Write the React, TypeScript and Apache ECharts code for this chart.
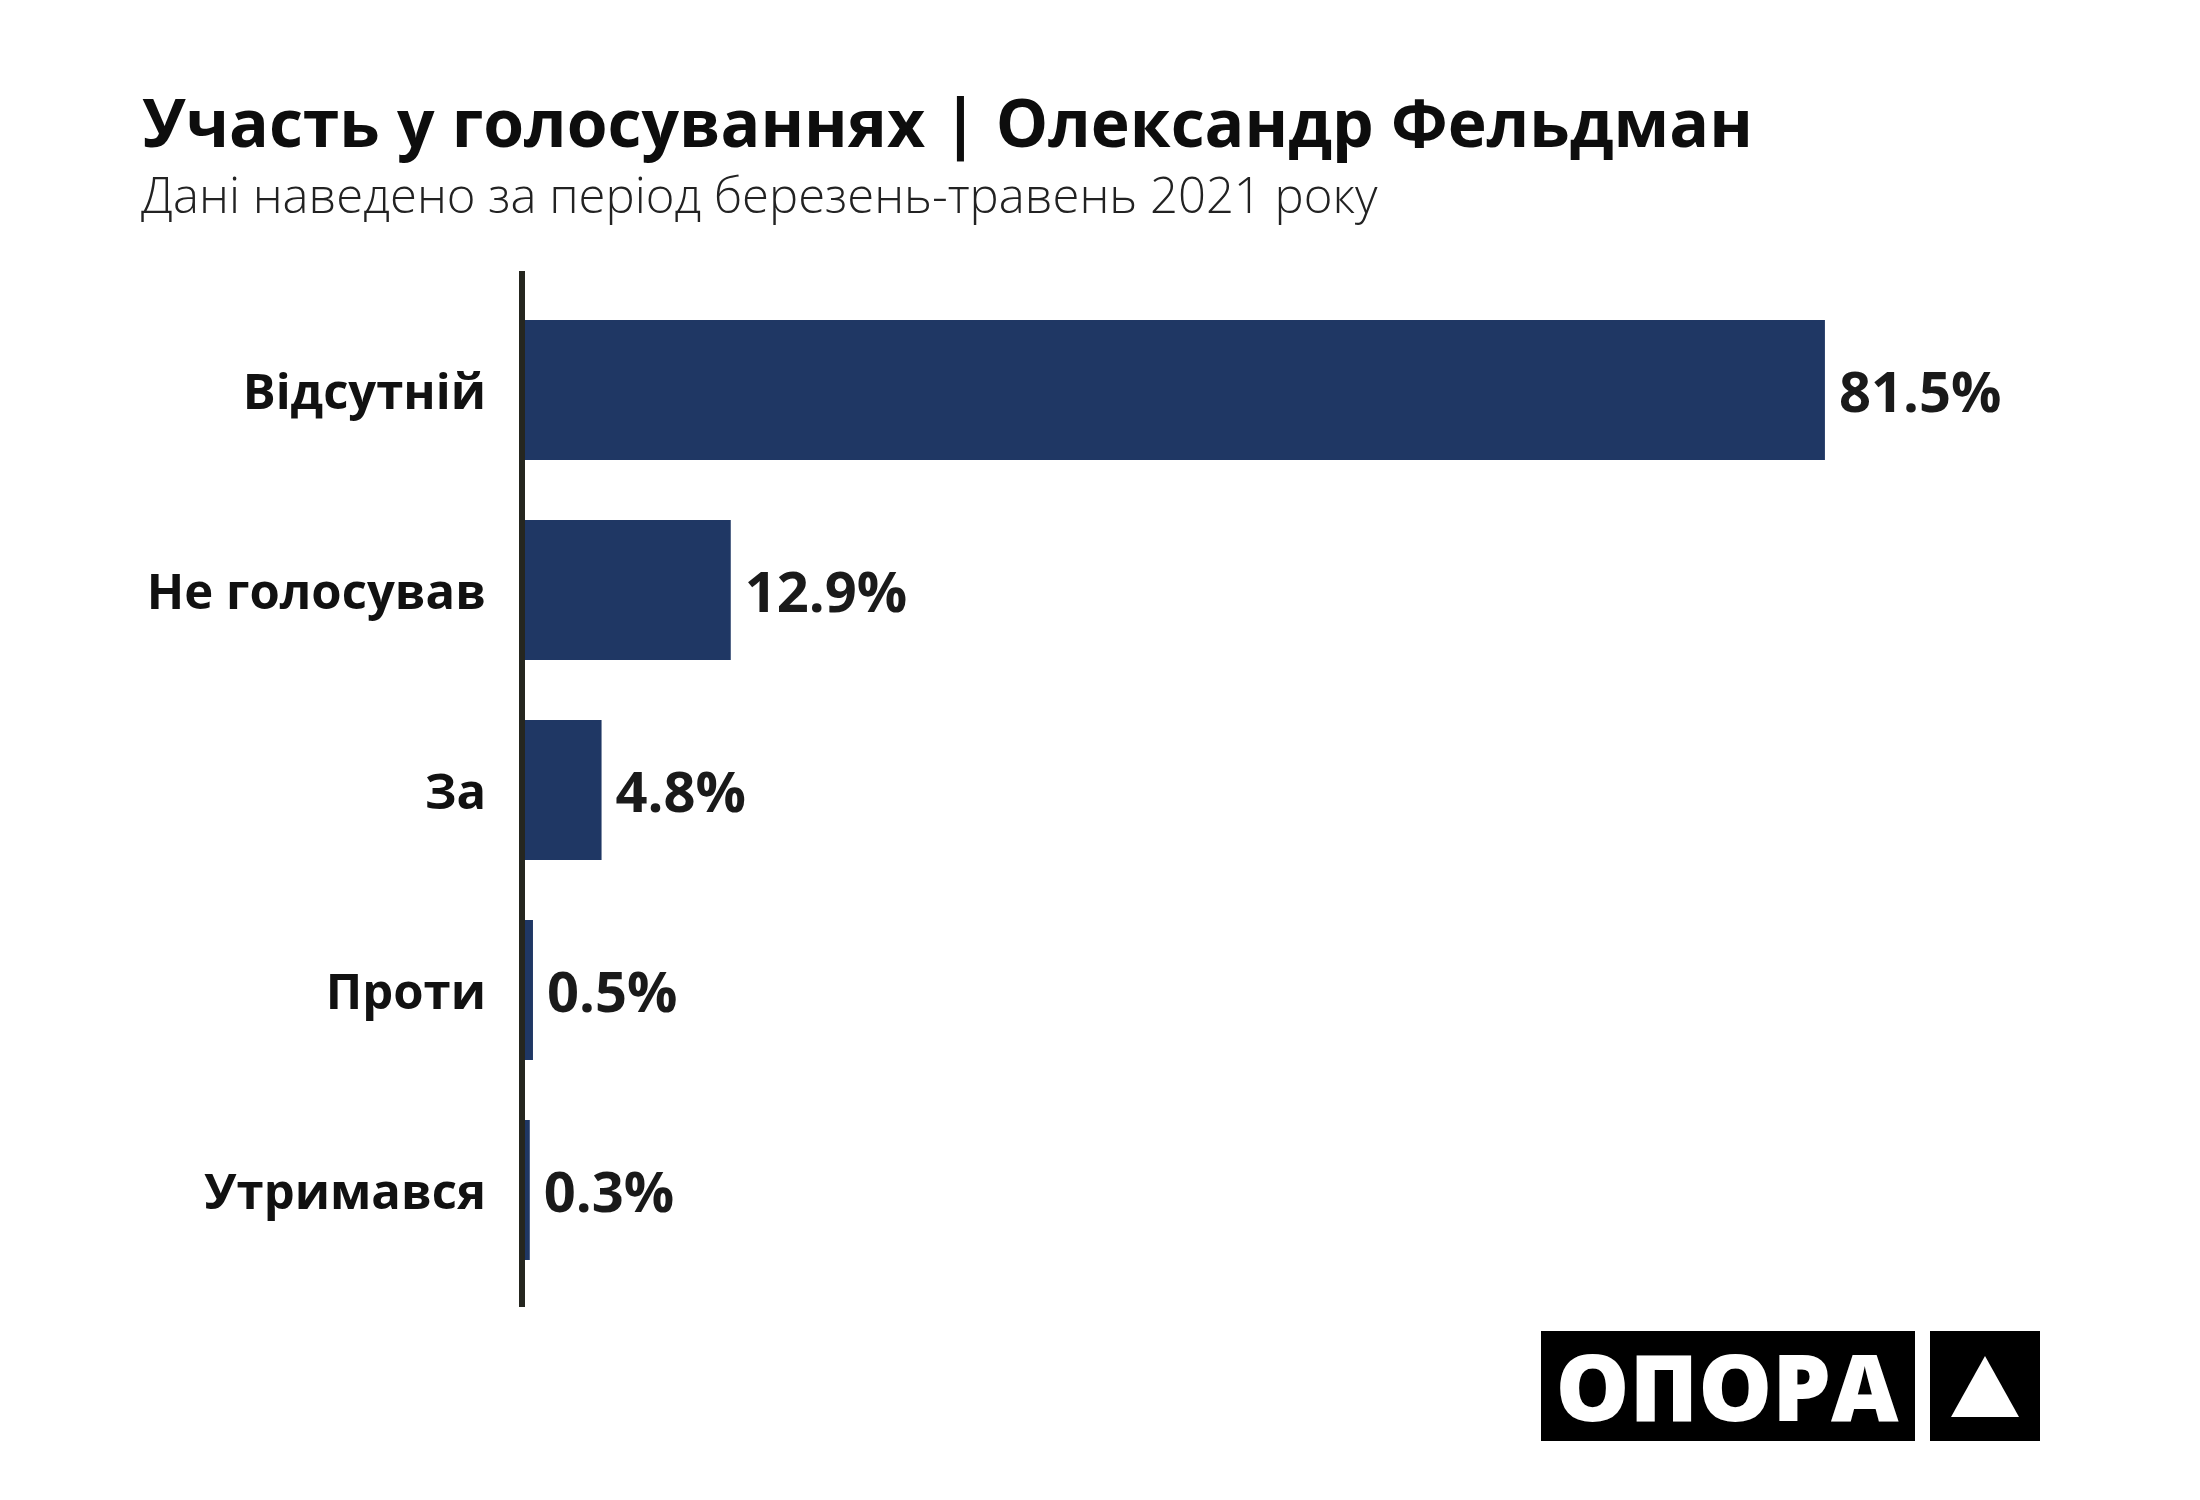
import React, { useEffect, useRef } from "react";
import * as echarts from "echarts";

const categories = ["Відсутній", "Не голосував", "За", "Проти", "Утримався"];
const shares = [81.5, 12.9, 4.8, 0.5, 0.3];
const titleText = "Участь у голосуваннях | Олександр Фельдман";
const subtitleText = "Дані наведено за період березень-травень 2021 року";
const logoText = "ОПОРА";

const FONT = "'Open Sans', 'Noto Sans', sans-serif";

export default function App() {
  const ref = useRef<HTMLDivElement>(null);
  useEffect(() => {
    if (!ref.current) return;
    const chart = echarts.init(ref.current, undefined, { renderer: "svg" });
    chart.setOption({
      animation: false,
      backgroundColor: "#ffffff",
      grid: { left: 525, top: 290, width: 1595, height: 1000, containLabel: false },
      xAxis: { type: "value", min: 0, max: 100, show: false },
      yAxis: {
        type: "category",
        inverse: true,
        data: categories,
        axisLine: { show: false },
        axisTick: { show: false },
        splitLine: { show: false },
        axisLabel: {
          margin: 39,
          fontFamily: FONT,
          fontSize: 49,
          fontWeight: "bold",
          color: "#111111",
        },
      },
      series: [
        {
          type: "bar",
          data: shares,
          barCategoryGap: "30%",
          itemStyle: { color: "#1f3764" },
          label: {
            show: true,
            position: "right",
            distance: 14,
            formatter: (p: any) => Number(p.value).toFixed(1) + "%",
            fontFamily: FONT,
            fontSize: 56,
            fontWeight: "bold",
            color: "#1a1a1a",
          },
        },
      ],
      graphic: [
        {
          type: "text",
          style: {
            text: titleText,
            x: 142,
            y: 121,
            verticalAlign: "middle",
            font: `bold 66px ${FONT}`,
            fill: "#0d0d0d",
          },
        },
        {
          type: "text",
          style: {
            text: subtitleText,
            x: 141,
            y: 194,
            verticalAlign: "middle",
            font: `300 49px ${FONT}`,
            fill: "#222222",
          },
        },
        {
          type: "line",
          z: 100,
          shape: { x1: 522, y1: 271, x2: 522, y2: 1307 },
          style: { stroke: "#25261f", lineWidth: 6 },
        },
        {
          type: "rect",
          shape: { x: 1541, y: 1331, width: 374, height: 110 },
          style: { fill: "#000000" },
        },
        {
          type: "rect",
          shape: { x: 1930, y: 1331, width: 110, height: 110 },
          style: { fill: "#000000" },
        },
        {
          type: "text",
          style: {
            text: logoText,
            x: 1727,
            y: 1385,
            align: "center",
            verticalAlign: "middle",
            font: `800 93px ${FONT}`,
            fill: "#ffffff",
          },
        },
        {
          type: "polygon",
          shape: { points: [[1985, 1356], [2019, 1417], [1951, 1417]] },
          style: { fill: "#ffffff" },
        },
      ],
    });
    return () => chart.dispose();
  }, []);
  return (
    <div
      ref={ref}
      style={{ position: "absolute", left: 0, top: 0, width: 2200, height: 1500, background: "#fff" }}
    />
  );
}
